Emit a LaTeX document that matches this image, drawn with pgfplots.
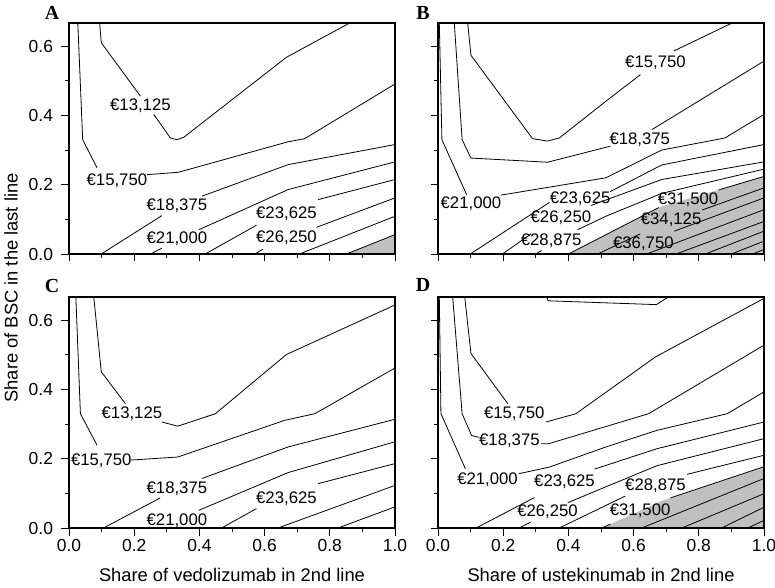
\documentclass[border=0pt]{standalone}
\usepackage{fontspec}
\setmainfont{Liberation Sans}
\newfontfamily\tnr{Liberation Serif}
\usepackage{pgfplots}
\pgfplotsset{compat=1.18}
\definecolor{shade}{RGB}{192,192,192}
\pgfplotsset{
 panel/.style={
  scale only axis, width=326bp, height=231bp,
  xmin=0, xmax=1, ymin=0, ymax=0.667,
  xtick={0,0.2,0.4,0.6,0.8,1.0},
  ytick={0,0.2,0.4,0.6},
  minor xtick={0.1,0.3,0.5,0.7,0.9},
  minor ytick={0.1,0.3,0.5},
  tick align=outside,
  xtick pos=bottom, ytick pos=left,
  major tick length=7.5bp, minor tick length=4bp,
  every tick/.style={black, line width=0.9bp},
  axis line style={line width=1.2bp},
  axis on top,
  /pgf/number format/fixed,
  /pgf/number format/fixed zerofill,
  /pgf/number format/precision=1,
  /pgf/number format/assume math mode=true,
  tick label style={font=\fontsize{17.5}{20}\selectfont},
  yticklabel style={xshift=-5bp},
  label style={font=\fontsize{18.4}{22}\selectfont},
 },
 cl/.style={black, line width=0.8bp, no markers},
}
\newcommand{\cl}[1]{\addplot[cl] coordinates {#1};}
\newcommand{\lab}[3]{\node[font=\fontsize{16.8}{19}\selectfont, inner sep=0pt] at (axis cs:#1,#2) {€#3};}
\begin{document}
\begin{tikzpicture}
\useasboundingbox (0,0) rectangle (775bp,588bp);
% ---------------- A
\begin{axis}[panel, at={(69bp,334bp)}, anchor=south west, xticklabels={},
  ylabel={Share of BSC in the last line},
  ylabel style={at={(axis description cs:-0.178,-0.147)}, anchor=center}]
\addplot[fill=shade, draw=none] coordinates {(0.851,0) (1,0.056)} \closedcycle;
\cl{(0.094,0.667)(0.099,0.610)(0.219,0.456)}
\cl{(0.260,0.403)(0.311,0.335)(0.331,0.330)(0.352,0.337)(0.667,0.568)(0.861,0.667)}
\cl{(0.027,0.667)(0.042,0.330)(0.086,0.249)}
\cl{(0.239,0.229)(0.336,0.236)(0.672,0.324)(0.723,0.333)(1.0,0.491)}
\cl{(0.099,0)(0.285,0.111)}
\cl{(0.408,0.167)(0.672,0.258)(1.0,0.316)}
\cl{(0.250,0)(0.285,0.017)}
\cl{(0.398,0.070)(0.672,0.186)(1.0,0.266)}
\cl{(0.418,0)(0.575,0.083)}
\cl{(0.764,0.157)(1.0,0.215)}
\cl{(0.570,0)(0.595,0.014)}
\cl{(0.759,0.077)(1.0,0.162)}
\cl{(0.707,0)(1.0,0.109)}
\cl{(0.851,0)(1.0,0.056)}
\lab{0.219}{0.427}{13,125}
\lab{0.147}{0.213}{15,750}
\lab{0.331}{0.138}{18,375}
\lab{0.331}{0.043}{21,000}
\lab{0.667}{0.116}{23,625}
\lab{0.667}{0.048}{26,250}
\end{axis}
% ---------------- B
\begin{axis}[panel, at={(438bp,334bp)}, anchor=south west, xticklabels={}, yticklabels={}]
\addplot[fill=shade, draw=none] coordinates {(0.40,0) (0.686,0.137) (1,0.224)} \closedcycle;
\cl{(0.091,0.667)(0.101,0.574)(0.290,0.333)(0.336,0.326)(0.372,0.335)(0.515,0.441)(0.621,0.518)}
\cl{(0.723,0.586)(0.902,0.667)}
\cl{(0.050,0.667)(0.074,0.330)(0.101,0.277)(0.336,0.265)(0.515,0.308)(0.529,0.311)}
\cl{(0.656,0.359)(1.0,0.557)}
\cl{(0.004,0.667)(0.012,0.330)(0.088,0.171)}
\cl{(0.193,0.170)(0.515,0.220)(0.686,0.300)(0.880,0.335)(1.0,0.403)}
\cl{(0.099,0)(0.342,0.149)}
\cl{(0.528,0.180)(0.686,0.257)(1,0.316)}
\cl{(0.198,0)(0.285,0.058)}
\cl{(0.469,0.140)(0.686,0.215)(1,0.266)}
\cl{(0.300,0)(0.318,0.010)}
\cl{(0.428,0.070)(0.515,0.109)(0.686,0.175)(1,0.245)}
\cl{(0.40,0)(0.677,0.134)}
\cl{(0.861,0.185)(1,0.224)}
\cl{(0.49,0)(0.62,0.058)}
\cl{(0.81,0.127)(1,0.191)}
\cl{(0.725,0.066)(1,0.162)}
\cl{(0.64,0)(1,0.128)}
\cl{(0.73,0)(1,0.094)}
\cl{(0.82,0)(1,0.066)}
\cl{(0.90,0)(1,0.037)}
\cl{(0.965,0)(1,0.013)}
\lab{0.667}{0.552}{15,750}
\lab{0.619}{0.330}{18,375}
\lab{0.101}{0.145}{21,000}
\lab{0.436}{0.159}{23,625}
\lab{0.377}{0.104}{26,250}
\lab{0.347}{0.039}{28,875}
\lab{0.767}{0.156}{31,500}
\lab{0.715}{0.098}{34,125}
\lab{0.630}{0.031}{36,750}
\end{axis}
% ---------------- C
\begin{axis}[panel, at={(69bp,60bp)}, anchor=south west,
  xlabel={Share of vedolizumab in 2nd line},
  xlabel style={at={(axis description cs:0.5,-0.2035)}, anchor=center}]
\cl{(0.076,0.667)(0.099,0.451)(0.173,0.359)}
\cl{(0.285,0.306)(0.334,0.294)(0.449,0.330)(0.667,0.501)(1.0,0.644)}
\cl{(0.021,0.667)(0.035,0.330)(0.086,0.239)}
\cl{(0.188,0.196)(0.334,0.205)(0.662,0.311)(0.754,0.330)(1.0,0.462)}
\cl{(0.106,0)(0.280,0.087)}
\cl{(0.408,0.143)(0.672,0.234)(1.0,0.314)}
\cl{(0.398,0.051)(0.672,0.160)(1.0,0.249)}
\cl{(0.468,0)(0.575,0.056)}
\cl{(0.764,0.128)(1.0,0.186)}
\cl{(0.641,0)(1.0,0.123)}
\cl{(0.825,0)(1.0,0.061)}
\lab{0.193}{0.329}{13,125}
\lab{0.099}{0.194}{15,750}
\lab{0.331}{0.112}{18,375}
\lab{0.331}{0.022}{21,000}
\lab{0.667}{0.085}{23,625}
\end{axis}
% ---------------- D
\begin{axis}[panel, at={(438bp,60bp)}, anchor=south west, yticklabels={},
  xlabel={Share of ustekinumab in 2nd line},
  xlabel style={at={(axis description cs:0.5,-0.2035)}, anchor=center}]
\addplot[fill=shade, draw=none] coordinates {(0.502,0) (0.686,0.078) (1,0.177)} \closedcycle;
\cl{(0.333,0.667)(0.338,0.656)(0.670,0.645)(0.706,0.667)}
\cl{(0.082,0.667)(0.101,0.504)(0.214,0.359)}
\cl{(0.331,0.306)(0.423,0.330)(0.667,0.494)(1,0.663)}
\cl{(0.045,0.667)(0.074,0.330)(0.103,0.267)(0.125,0.262)}
\cl{(0.316,0.243)(0.338,0.243)(0.646,0.330)(1,0.528)}
\cl{(0.004,0.667)(0.009,0.330)(0.084,0.171)}
\cl{(0.249,0.157)(0.342,0.176)(0.515,0.234)(0.672,0.282)(0.887,0.330)(1,0.393)}
\cl{(0.117,0)(0.296,0.088)}
\cl{(0.480,0.170)(0.672,0.229)(1,0.306)}
\cl{(0.249,0)(0.284,0.017)}
\cl{(0.398,0.073)(0.515,0.119)(0.672,0.180)(1,0.258)}
\cl{(0.372,0)(0.574,0.092)}
\cl{(0.764,0.155)(1,0.210)}
\cl{(0.502,0)(0.529,0.011)}
\cl{(0.713,0.087)(1,0.177)}
\cl{(0.625,0)(1,0.143)}
\cl{(0.748,0)(1,0.099)}
\cl{(0.870,0)(1,0.060)}
\cl{(0.950,0)(1,0.022)}
\lab{0.234}{0.330}{15,750}
\lab{0.219}{0.253}{18,375}
\lab{0.152}{0.138}{21,000}
\lab{0.388}{0.135}{23,625}
\lab{0.336}{0.046}{26,250}
\lab{0.667}{0.123}{28,875}
\lab{0.620}{0.051}{31,500}
\end{axis}
\node[font=\tnr\bfseries\fontsize{20}{22}\selectfont] at (52bp,575bp) {A};
\node[font=\tnr\bfseries\fontsize{20}{22}\selectfont] at (423bp,575bp) {B};
\node[font=\tnr\bfseries\fontsize{20}{22}\selectfont] at (52bp,302bp) {C};
\node[font=\tnr\bfseries\fontsize{20}{22}\selectfont] at (423bp,303bp) {D};
\end{tikzpicture}
\end{document}
